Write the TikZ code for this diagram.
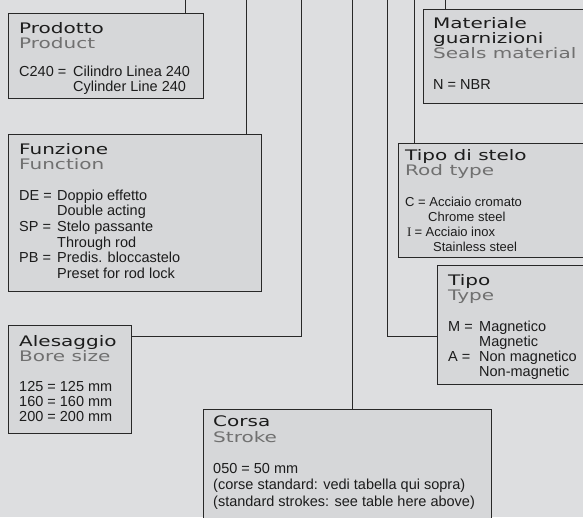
\documentclass[tikz,border=0pt]{standalone}
\usepackage{fontspec}
\setmainfont{Liberation Sans}
\newfontfamily\headfont[FakeStretch=1.38]{DejaVu Sans}
\newfontfamily\serifI{Liberation Serif}
\usepackage{tikz}
\usetikzlibrary{positioning}

\definecolor{bgcol}{RGB}{221,222,224}
\definecolor{boxcol}{RGB}{214,215,217}
\definecolor{edgecol}{RGB}{40,40,40}
\definecolor{subcol}{RGB}{112,112,112}
\definecolor{txtcol}{RGB}{28,28,28}

% heading lines (smashed so every row keeps the same pitch)
\newcommand{\hdrow}[1]{\smash{\headfont\fontsize{14.5}{15}\selectfont #1}}
\newcommand{\subrow}[1]{\smash{\headfont\fontsize{14.5}{15}\selectfont\color{subcol}#1}}
\newcommand{\keyed}[2]{\makebox[#1][l]{#2}}

\tikzset{
  codebox/.style={draw=edgecol, line width=1pt, fill=boxcol, anchor=north west,
    inner sep=0pt},
  codetext/.style={anchor=base west, inner sep=0pt, text=txtcol,
    font=\fontsize{14.5}{15}\selectfont},
  link/.style={draw=edgecol, line width=1pt}
}

\begin{document}
\begin{tikzpicture}[x=1pt,y=-1pt]
\useasboundingbox (0,0) rectangle (583,517);
\fill[bgcol] (0,0) rectangle (583,517);
\clip (0,0) rectangle (583,517);

% free ends at the top edge
\coordinate (t1) at (185,0);
\coordinate (t2) at (246,0);
\coordinate (t3) at (301,0);
\coordinate (t4) at (352,0);
\coordinate (t5) at (387,0);
\coordinate (t6) at (414,0);
\coordinate (t7) at (445,0);

% boxes
\node[codebox, minimum width=195pt, minimum height=85pt] (prod) at (8,13) {};
\node[codebox, minimum width=253pt, minimum height=157pt] (func) at (8,134) {};
\node[codebox, minimum width=123pt, minimum height=108pt] (bore) at (8,325) {};
\node[codebox, minimum width=288pt, minimum height=140pt] (stroke) at (203,409) {};
\node[codebox, minimum width=190pt, minimum height=94pt] (seal) at (423,9) {};
\node[codebox, minimum width=200pt, minimum height=114pt] (rod) at (398,143) {};
\node[codebox, minimum width=170pt, minimum height=119pt] (type) at (437,265) {};

% connectors
\draw[link] (t1) -- (t1 |- prod.north);
\draw[link] (t2) -- (t2 |- func.north);
\draw[link] (bore.east |- 0,336) -| (t3);
\draw[link] (t4) -- (t4 |- stroke.north);
\draw[link] (type.west |- 0,336) -| (t5);
\draw[link] (t6) -- (t6 |- rod.north);
\draw[link] (t7) -- (t7 |- seal.north);

% texts
\node[codetext] (prodT) at ([shift={(11,20)}]prod.north west) {%
  \begin{tabular}[t]{@{}l@{}}
  \hdrow{Prodotto}\\
  \subrow{Product}\\[13pt]
  \keyed{54pt}{C240 =}Cilindro Linea 240\\
  \keyed{54pt}{}Cylinder Line 240
  \end{tabular}};

\node[codetext, font=\fontsize{14.5}{15.6}\selectfont] (funcT) at ([shift={(11,20)}]func.north west) {%
  \begin{tabular}[t]{@{}l@{}}
  \hdrow{Funzione}\\
  \subrow{Function}\\[15pt]
  \keyed{38pt}{DE =}Doppio effetto\\
  \keyed{38pt}{}Double acting\\
  \keyed{38pt}{SP =}Stelo passante\\
  \keyed{38pt}{}Through rod\\
  \keyed{38pt}{PB =}Predis. bloccastelo\\
  \keyed{38pt}{}Preset for rod lock
  \end{tabular}};

\node[codetext] (boreT) at ([shift={(11,21)}]bore.north west) {%
  \begin{tabular}[t]{@{}l@{}}
  \hdrow{Alesaggio}\\
  \subrow{Bore size}\\[15pt]
  125 = 125 mm\\
  160 = 160 mm\\
  200 = 200 mm
  \end{tabular}};

\node[codetext, font=\fontsize{14.5}{16.3}\selectfont] (strokeT) at ([shift={(10,17)}]stroke.north west) {%
  \begin{tabular}[t]{@{}l@{}}
  \hdrow{Corsa}\\
  \subrow{Stroke}\\[15pt]
  050 = 50 mm\\
  (corse standard: vedi tabella qui sopra)\\
  (standard strokes: see table here above)
  \end{tabular}};

\node[codetext] (sealT) at ([shift={(10,19)}]seal.north west) {%
  \begin{tabular}[t]{@{}l@{}}
  \hdrow{Materiale}\\
  \hdrow{guarnizioni}\\
  \subrow{Seals material}\\[16pt]
  N = NBR
  \end{tabular}};

\node[codetext, font=\fontsize{13}{15}\selectfont] (rodT) at ([shift={(7,17)}]rod.north west) {%
  \begin{tabular}[t]{@{}l@{}}
  \hdrow{Tipo di stelo}\\
  \subrow{Rod type}\\[16pt]
  C = Acciaio cromato\\
  \hspace{23pt}Chrome steel\\
  \hspace{2pt}{\serifI I}\hspace{3pt}= Acciaio inox\\
  \hspace{28pt}Stainless steel
  \end{tabular}};

\node[codetext] (typeT) at ([shift={(11,20)}]type.north west) {%
  \begin{tabular}[t]{@{}l@{}}
  \hdrow{Tipo}\\
  \subrow{Type}\\[16pt]
  \keyed{31pt}{M =}Magnetico\\
  \keyed{31pt}{}Magnetic\\
  \keyed{31pt}{A =}Non magnetico\\
  \keyed{31pt}{}Non-magnetic
  \end{tabular}};
\end{tikzpicture}
\end{document}
